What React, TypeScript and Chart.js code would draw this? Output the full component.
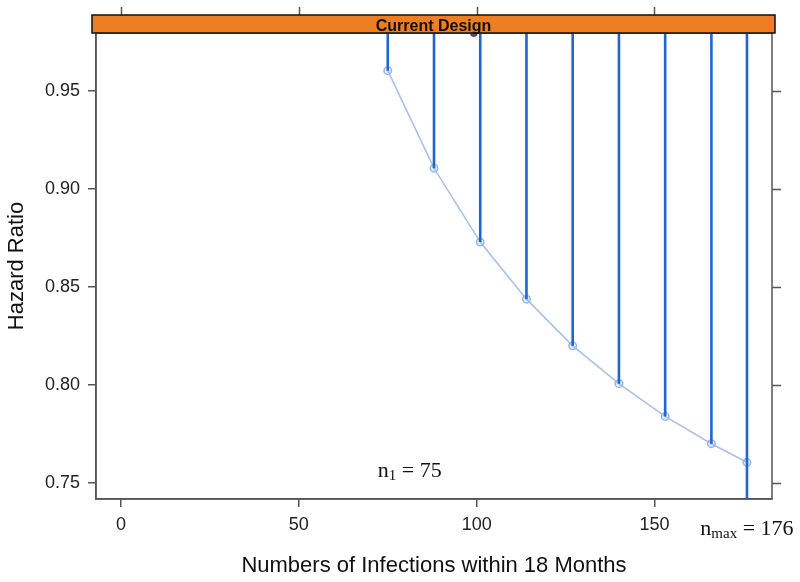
import React, { useEffect, useRef } from "react";
import { Chart, registerables } from "chart.js";

Chart.register(...registerables);

// ---- data ----
const infections = [75, 88, 101, 114, 127, 140, 153, 166, 176];
const hazardRatio = [0.9602, 0.9105, 0.8728, 0.8437, 0.8199, 0.8006, 0.7839, 0.77, 0.7605];
const markerX = [99.2];
const xTicks = [0, 50, 100, 150];
const yTicks = [0.75, 0.8, 0.85, 0.9, 0.95];
const xLimits = [-7.04, 183.04];
const yLimits = [0.7418, 0.9794];
const stripLabel = "Current Design";
const xTitle = "Numbers of Infections within 18 Months";
const yTitle = "Hazard Ratio";
const firstLook = 75;
const maxLook = 176;

const SANS = "'Liberation Sans', Arial, Helvetica, sans-serif";
const SERIF = "'Liberation Serif', 'Times New Roman', serif";

const latticePlugin = {
  id: "latticeDecor",
  afterDraw(chart: any) {
    const { ctx, chartArea, scales } = chart;
    const xs = scales.x;
    const ys = scales.y;
    const { left, right, top, bottom } = chartArea;
    ctx.save();
    // panel frame
    ctx.strokeStyle = "#555";
    ctx.lineWidth = 1.5;
    ctx.strokeRect(left, top, right - left, bottom - top);
    // right ticks
    ctx.beginPath();
    yTicks.forEach((v) => {
      const p = Math.round(ys.getPixelForValue(v)) + 0.5;
      ctx.moveTo(right, p);
      ctx.lineTo(right + 9, p);
    });
    // top ticks (above strip)
    const stripTop = top - 18;
    xTicks.forEach((v) => {
      const p = Math.round(xs.getPixelForValue(v)) + 0.5;
      ctx.moveTo(p, stripTop);
      ctx.lineTo(p, stripTop - 8);
    });
    ctx.stroke();
    // strip
    ctx.fillStyle = "#ef7d22";
    ctx.fillRect(left - 4, stripTop, right - left + 7, 18);
    ctx.strokeStyle = "#111";
    ctx.lineWidth = 1.5;
    ctx.strokeRect(left - 4, stripTop, right - left + 7, 18);
    ctx.fillStyle = "#111";
    ctx.font = `bold 16px ${SANS}`;
    ctx.textAlign = "center";
    ctx.textBaseline = "alphabetic";
    ctx.fillText(stripLabel, (left - 4 + right + 3) / 2, top - 2.5);

    // annotations with subscripts
    const drawSub = (base: string, sub: string, rest: string, cx: number, by: number) => {
      ctx.textAlign = "left";
      ctx.font = `22px ${SERIF}`;
      const wBase = ctx.measureText(base).width;
      const wRest = ctx.measureText(rest).width;
      ctx.font = `15px ${SERIF}`;
      const wSub = ctx.measureText(sub).width;
      let x = cx - (wBase + wSub + wRest) / 2;
      ctx.fillStyle = "#111";
      ctx.font = `22px ${SERIF}`;
      ctx.fillText(base, x, by);
      x += wBase;
      ctx.font = `15px ${SERIF}`;
      ctx.fillText(sub, x, by + 3);
      x += wSub;
      ctx.font = `22px ${SERIF}`;
      ctx.fillText(rest, x, by);
    };
    drawSub("n", "1", " = " + firstLook, xs.getPixelForValue(firstLook) + 22, ys.getPixelForValue(0.75) - 6);
    drawSub("n", "max", " = " + maxLook, xs.getPixelForValue(maxLook), bottom + 36);
    ctx.restore();
  },
};

export default function App() {
  const ref = useRef<HTMLCanvasElement | null>(null);
  useEffect(() => {
    if (!ref.current) return;
    const [yMin, yMax] = yLimits;
    const stems: any[] = [];
    infections.forEach((x, i) => {
      const last = i === infections.length - 1;
      stems.push({ x, y: last ? yMin : hazardRatio[i] });
      stems.push({ x, y: yMax });
      stems.push({ x, y: null });
    });
    const curve = infections.map((x, i) => ({ x, y: hazardRatio[i] }));
    const hidden = markerX.map((x) => ({ x, y: yMax }));

    const tickFont = { family: SANS, size: 18 };
    const chart = new Chart(ref.current, {
      type: "scatter",
      data: {
        datasets: [
          {
            type: "line",
            data: stems,
            borderColor: "#1f66cf",
            borderWidth: 2.6,
            pointRadius: 0,
            spanGaps: false,
            order: 0,
          } as any,
          {
            type: "line",
            data: curve,
            borderColor: "#a8c2ea",
            borderWidth: 1.6,
            pointRadius: 3.8,
            pointBorderColor: "#94b3e6",
            pointBackgroundColor: "rgba(170,196,236,0.35)",
            pointBorderWidth: 1.4,
            order: 1,
          } as any,
          {
            data: hidden,
            pointRadius: 3.5,
            pointBackgroundColor: "#555",
            pointBorderColor: "#444",
            clip: false,
            order: 2,
          } as any,
        ],
      },
      options: {
        responsive: false,
        animation: false,
        devicePixelRatio: 1,
        layout: { padding: { top: 33, right: 28, bottom: 0, left: 0 } },
        plugins: { legend: { display: false }, tooltip: { enabled: false } },
        scales: {
          x: {
            type: "linear",
            min: xLimits[0],
            max: xLimits[1],
            afterBuildTicks: (s: any) => {
              s.ticks = xTicks.map((v) => ({ value: v }));
            },
            afterFit: (s: any) => {
              s.height = 83;
            },
            ticks: {
              font: tickFont,
              color: "#222",
              padding: 7,
              maxRotation: 0,
              autoSkip: false,
              callback: (v: any) => String(v),
            },
            grid: { display: true, drawOnChartArea: false, drawTicks: true, tickLength: 8, color: "#555", lineWidth: 1.5 },
            border: { display: true, color: "#555", width: 1.5 },
            title: {
              display: true,
              text: xTitle,
              font: { family: SANS, size: 22 },
              color: "#111",
              padding: { top: 0, bottom: 3 },
            },
          },
          y: {
            type: "linear",
            min: yLimits[0],
            max: yLimits[1],
            afterBuildTicks: (s: any) => {
              s.ticks = yTicks.map((v) => ({ value: v }));
            },
            afterFit: (s: any) => {
              s.width = 96;
            },
            ticks: {
              font: tickFont,
              color: "#222",
              padding: 8,
              autoSkip: false,
              callback: (v: any) => Number(v).toFixed(2),
            },
            grid: { display: true, drawOnChartArea: false, drawTicks: true, tickLength: 8, color: "#555", lineWidth: 1.5 },
            border: { display: true, color: "#555", width: 1.5 },
            title: {
              display: true,
              text: yTitle,
              font: { family: SANS, size: 22 },
              color: "#111",
              padding: { top: 4, bottom: 0 },
            },
          },
        },
      },
      plugins: [latticePlugin],
    } as any);
    return () => chart.destroy();
  }, []);

  return (
    <div style={{ position: "absolute", left: 0, top: 0, width: 800, height: 582, background: "#fff" }}>
      <canvas ref={ref} width={800} height={582} style={{ display: "block" }} />
    </div>
  );
}
